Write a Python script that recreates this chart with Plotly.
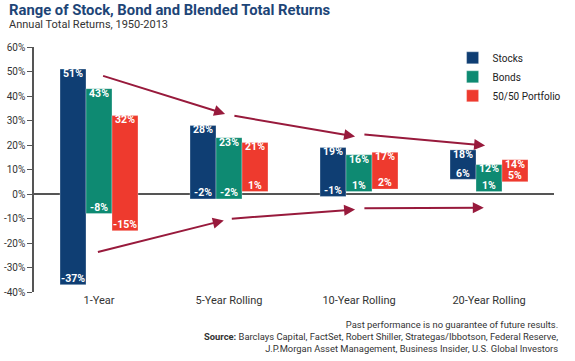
import plotly.graph_objects as go

categories = ["1-Year", "5-Year Rolling", "10-Year Rolling", "20-Year Rolling"]
series_names = ["Stocks", "Bonds", "50/50 Portfolio"]
stocks_high = [51, 28, 19, 18]
stocks_low = [-37, -2, -1, 6]
bonds_high = [43, 23, 16, 12]
bonds_low = [-8, -2, 1, 1]
portfolio_high = [32, 21, 17, 14]
portfolio_low = [-15, 1, 2, 5]
y_tick_values = [-40, -30, -20, -10, 0, 10, 20, 30, 40, 50, 60]

# trend arrows (start x, start y, end x, end y) in data units
arrows_upper = [(0.02, 48.4, 0.97, 32.7), (1.03, 32.0, 1.97, 23.5), (2.03, 24.3, 2.97, 19.8)]
arrows_lower = [(-0.02, -23.8, 0.96, -10.8), (1.01, -10.1, 1.97, -6.3), (2.03, -5.8, 2.96, -5.6)]

colors = ["#0f3e73", "#0e8a72", "#ee3a2e"]
arrow_color = "#981a3c"
highs = [stocks_high, bonds_high, portfolio_high]
lows = [stocks_low, bonds_low, portfolio_low]
offsets = [-0.2, 0.0, 0.2]
bar_w = 0.2

fig = go.Figure()
xs_idx = list(range(len(categories)))
for name, hi, lo, col, off in zip(series_names, highs, lows, colors, offsets):
    xs = [i + off for i in xs_idx]
    fig.add_trace(go.Bar(
        x=xs, y=[h - l for h, l in zip(hi, lo)], base=lo, width=bar_w,
        name=name, marker=dict(color=col, line=dict(color="rgba(255,255,255,0.6)", width=0.5)),
        hoverinfo="skip",
    ))
label_font = dict(family="Roboto", size=10.5, color="white", weight="bold")
for name, hi, lo, off in zip(series_names, highs, lows, offsets):
    xs = [i + off for i in xs_idx]
    fig.add_trace(go.Scatter(
        x=xs, y=hi, mode="text", text=[f"{v}%" for v in hi], textposition="bottom center",
        textfont=label_font, showlegend=False, hoverinfo="skip", cliponaxis=False,
    ))
    fig.add_trace(go.Scatter(
        x=xs, y=lo, mode="text", text=[f"{v}%" for v in lo], textposition="top center",
        textfont=label_font, showlegend=False, hoverinfo="skip", cliponaxis=False,
    ))

annotations = []
for (x0, y0, x1, y1) in arrows_upper + arrows_lower:
    annotations.append(dict(
        x=x1, y=y1, ax=x0, ay=y0, xref="x", yref="y", axref="x", ayref="y",
        showarrow=True, arrowhead=2, arrowsize=1.1, arrowwidth=2, arrowcolor=arrow_color, text="",
    ))

annotations += [
    dict(text="<b>Range of Stock, Bond and Blended Total Returns</b>", xref="paper", yref="paper",
         x=-0.052, y=1.151, xanchor="left", yanchor="middle", showarrow=False,
         font=dict(family="Roboto", size=14.8, color="#1d4577")),
    dict(text="Annual Total Returns, 1950-2013", xref="paper", yref="paper",
         x=-0.052, y=1.090, xanchor="left", yanchor="middle", showarrow=False,
         font=dict(family="Roboto", size=11, color="#333333")),
    dict(text="Past performance is no guarantee of future results.<br>"
              "<b>Source:</b> Barclays Capital, FactSet, Robert Shiller, Strategas/Ibbotson, Federal Reserve,<br>"
              "J.P.Morgan Asset Management, Business Insider, U.S. Global Investors",
         xref="paper", yref="paper", x=1.012, y=-0.100, xanchor="right", yanchor="top",
         align="right", showarrow=False,
         font=dict(family="Roboto", size=9.4, color="#333333")),
]

fig.update_layout(
    width=575, height=361,
    margin=dict(l=34, r=21, t=47, b=69, autoexpand=False),
    paper_bgcolor="white", plot_bgcolor="white",
    barmode="overlay",
    showlegend=True,
    legend=dict(x=0.805, y=1.015, xanchor="left", yanchor="top", bgcolor="rgba(0,0,0,0)",
                font=dict(family="Roboto", size=10, color="#222222"), tracegroupgap=0),
    annotations=annotations,
    font=dict(family="Roboto"),
)
fig.update_xaxes(
    range=[-0.5, 3.5], tickmode="array", tickvals=xs_idx, ticktext=categories,
    showgrid=False, zeroline=False, showline=False, ticks="", automargin=False,
    tickfont=dict(family="Roboto", size=11, color="#333333"),
)
fig.update_yaxes(
    range=[-40, 60], tickmode="array", tickvals=y_tick_values,
    ticktext=[f"{v}%" for v in y_tick_values], automargin=False,
    showgrid=False, zeroline=True, zerolinecolor="#555555", zerolinewidth=1.5,
    showline=True, linecolor="#555555", linewidth=1.5, ticks="outside", ticklen=5,
    tickcolor="#555555", tickwidth=1.2,
    tickfont=dict(family="Roboto", size=10, color="#333333"),
)

fig.write_html("out.html", config={"displayModeBar": False},
               post_script="document.body.style.margin='0';")
